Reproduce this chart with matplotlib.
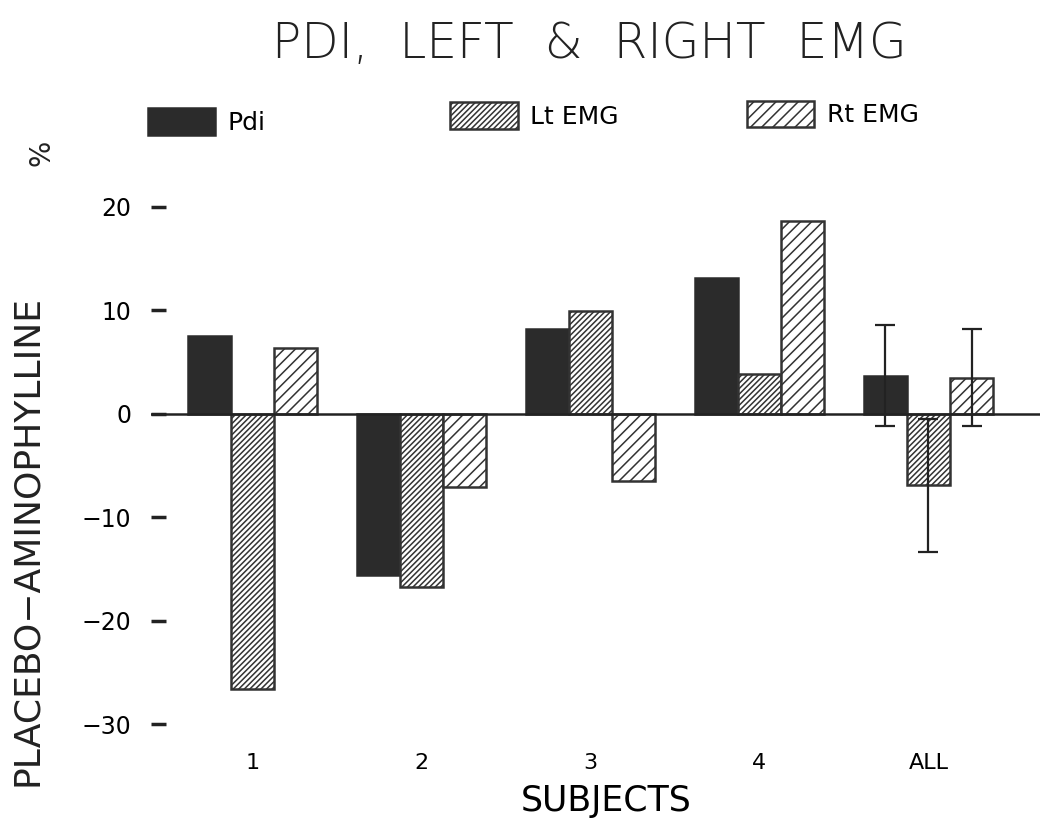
import matplotlib.pyplot as plt
import numpy as np

# Placebo minus aminophylline, % change per subject
subjects = ['1', '2', '3', '4', 'ALL']
pdi = [7.5, -15.6, 8.2, 13.1, 3.7]
lt_emg = [-26.6, -16.7, 9.9, 3.8, -6.9]
rt_emg = [6.4, -7.1, -6.5, 18.6, 3.5]

# SD shown only for the pooled group
pdi_err = [0, 0, 0, 0, 4.9]
lt_err = [0, 0, 0, 0, 6.4]
rt_err = [0, 0, 0, 0, 4.7]

yticks = [20, 10, 0, -10, -20, -30]
ytick_labels = ['20', '10', '0', '\u221210', '\u221220', '\u221230']


def plot_pdi_emg():
    plt.rcParams['font.family'] = ['DejaVu Sans']
    plt.rcParams['hatch.linewidth'] = 1.1

    fig = plt.figure(figsize=(10.4, 8.27), dpi=100)
    ax = fig.add_axes([0.145, 0.099, 0.855, 0.676])

    x = np.arange(len(subjects))
    w = 0.255

    series = [
        (pdi, pdi_err, dict(color='#2b2b2b', edgecolor='#2b2b2b', hatch=None), 'Pdi'),
        (lt_emg, lt_err, dict(color='white', edgecolor='#333333', hatch='//////'), 'Lt EMG'),
        (rt_emg, rt_err, dict(color='white', edgecolor='#333333', hatch='///'), 'Rt EMG'),
    ]

    handles = []
    for i, (vals, errs, style, label) in enumerate(series):
        pos = x + (i - 1) * w
        bars = ax.bar(pos, vals, width=w, linewidth=1.8, label=label, **style)
        handles.append(bars)
        # error bars only where an SD exists
        mask = np.array(errs) > 0
        ax.errorbar(pos[mask], np.array(vals)[mask], yerr=np.array(errs)[mask],
                    fmt='none', ecolor='#222222', elinewidth=1.6,
                    capsize=7, capthick=1.6)

    ax.axhline(0, color='#222222', linewidth=1.8, zorder=3)

    ax.set_xlim(-0.6, 4.66)
    ax.set_ylim(-32, 22)
    for s in ax.spines.values():
        s.set_visible(False)

    ax.set_yticks(yticks)
    ax.set_yticklabels(ytick_labels, fontsize=17)
    ax.tick_params(axis='y', direction='in', length=11, width=2.5,
                   color='#222222', pad=14)
    ax.set_xticks(x)
    ax.set_xticklabels(subjects, fontsize=16)
    ax.tick_params(axis='x', length=0, pad=6)

    ax.set_xlabel('SUBJECTS', fontsize=25)
    ax.xaxis.set_label_coords(0.512, -0.07)
    fig.text(0.026, 0.347, 'PLACEBO\u2212AMINOPHYLLINE', rotation=90,
             fontsize=26, ha='center', va='center', color='#222222')
    fig.text(0.04, 0.815, '%', rotation=90, fontsize=20,
             ha='center', va='center', color='#222222')

    fig.suptitle('PDI,  LEFT  &  RIGHT  EMG', x=0.567, y=0.976,
                 fontsize=35, fontweight='light', color='#222222')

    # legend entries spread across the top
    legend_pos = [(0.142, 0.853), (0.433, 0.860), (0.718, 0.862)]
    for h, (lx, ly) in zip(handles, legend_pos):
        fig.legend([h], [h.get_label()], loc='center left',
                   bbox_to_anchor=(lx, ly), frameon=False, borderpad=0,
                   borderaxespad=0, fontsize=18, handlelength=2.7,
                   handleheight=1.25, handletextpad=0.5)

    plt.savefig('out.png', dpi=100)


if __name__ == "__main__":
    plot_pdi_emg()
